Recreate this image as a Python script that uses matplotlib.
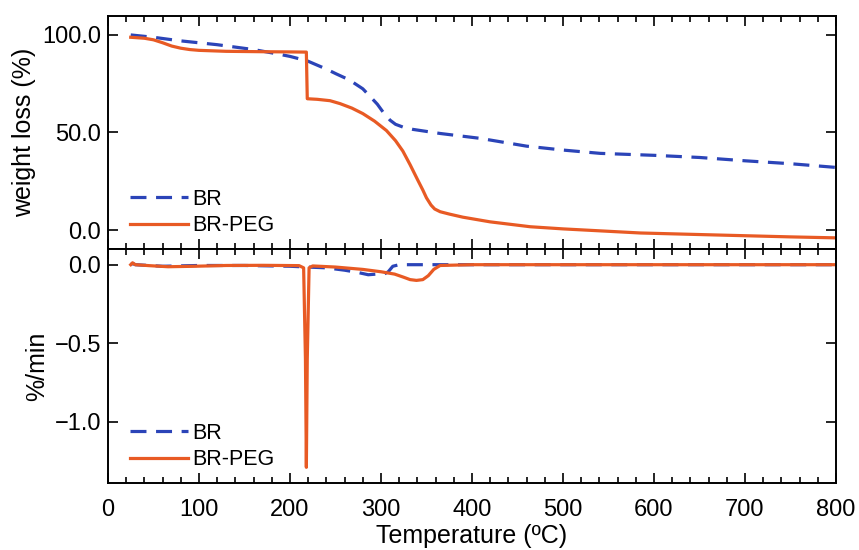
import matplotlib
matplotlib.use("Agg")
import matplotlib.pyplot as plt
from matplotlib.ticker import MultipleLocator, FuncFormatter

plt.rcParams["font.family"] = ["Liberation Sans", "DejaVu Sans"]

# weight loss curves (TGA)
br_temp = [25, 50, 79, 120, 160, 186, 200, 219, 240, 251, 265, 280, 288, 296, 303,
           310, 316, 324, 335, 365, 409, 460, 500, 541, 600, 650, 700, 750, 800]
br_wt = [100, 98.8, 97, 95, 92.5, 90.3, 89, 86.7, 82.5, 80, 77, 72.4, 68.5, 64.5,
         60, 56.3, 54.2, 52.8, 51.6, 49.5, 47, 43, 41, 39.3, 38.3, 37.2, 35.5,
         34, 32.1]

peg_temp = [25, 40, 50, 60, 70, 80, 90, 100, 130, 170, 200, 218, 219, 230, 244,
            255, 268, 280, 293, 306, 316, 324, 332, 340, 346, 350, 355, 359, 365,
            375, 390, 420, 464, 500, 585, 650, 700, 750, 800]
peg_wt = [98.8, 98.3, 97.5, 96, 94.3, 93.2, 92.5, 92.1, 91.6, 91.4, 91.3, 91.2,
          67.3, 67.0, 66.3, 64.8, 62.5, 59.7, 55.8, 51, 45.8, 40.5, 33.5, 26,
          20.5, 16.5, 12.8, 10.8, 9.4, 8.2, 6.6, 4.2, 1.7, 0.6, -1.5, -2.3, -2.9,
          -3.5, -4]

# derivative curves (DTG)
br_dtemp = [25, 27, 30, 60, 100, 150, 200, 219, 240, 260, 275, 286, 295, 302,
            308, 313, 320, 400, 500, 600, 700, 800]
br_dtg = [0, 0.008, 0, -0.01, -0.005, -0.005, -0.01, -0.015, -0.02, -0.035,
          -0.05, -0.064, -0.06, -0.064, -0.045, -0.01, 0, 0, 0, 0, 0, 0]

peg_dtemp = [25, 27, 30, 45, 66, 95, 130, 170, 210, 215, 217, 218, 219, 221, 225,
             250, 280, 300, 315, 325, 332, 339, 346, 352, 358, 365, 400, 500, 600,
             700, 800]
peg_dtg = [0, 0.012, 0, -0.006, -0.013, -0.01, -0.005, -0.004, -0.006, -0.02,
           -0.6, -1.29, -0.6, -0.02, -0.008, -0.015, -0.03, -0.045, -0.06, -0.08,
           -0.095, -0.10, -0.095, -0.07, -0.03, -0.005, 0, 0, 0, 0, 0]

blue = "#2B44B8"
orange = "#E85A24"


def minus_fmt(v, pos):
    return f"{v:.1f}".replace("-", "\u2212")


def style_axis(ax):
    ax.tick_params(which="both", direction="in", top=True, right=True,
                   labelsize=17, width=1.2)
    ax.tick_params(which="major", length=7)
    ax.tick_params(which="minor", length=4)
    ax.tick_params(axis="y", which="minor", left=False, right=False)
    ax.tick_params(axis="y", pad=5)
    ax.tick_params(axis="x", pad=11.5)
    ax.xaxis.set_major_locator(MultipleLocator(100))
    ax.xaxis.set_minor_locator(MultipleLocator(20))
    ax.yaxis.set_major_formatter(FuncFormatter(minus_fmt))
    for s in ax.spines.values():
        s.set_linewidth(1.4)


fig = plt.figure(figsize=(8.59, 5.5), dpi=100)
ax1 = fig.add_axes([0.1257, 0.5473, 0.8475, 0.4236])
ax2 = fig.add_axes([0.1257, 0.1218, 0.8475, 0.4255], sharex=ax1)

ax1.plot(br_temp, br_wt, color=blue, lw=2.3, dashes=(5, 3), label="BR")
ax1.plot(peg_temp, peg_wt, color=orange, lw=2.3, label="BR-PEG")
ax1.set_ylim(-9.7, 109.7)
ax1.set_yticks([0, 50, 100])
ax1.set_ylabel("weight loss (%)", fontsize=18)
style_axis(ax1)
ax1.tick_params(labelbottom=False)

ax2.plot(br_dtemp, br_dtg, color=blue, lw=2.3, dashes=(5, 3), label="BR")
ax2.plot(peg_dtemp, peg_dtg, color=orange, lw=2.3, label="BR-PEG")
ax2.set_ylim(-1.39, 0.1)
ax2.set_yticks([-1.0, -0.5, 0.0])
ax2.set_ylabel("%/min", fontsize=18)
ax2.set_xlim(0, 800)
ax2.set_xlabel("Temperature (ºC)", fontsize=18, labelpad=2)
style_axis(ax2)

for ax in (ax1, ax2):
    ax.legend(loc="lower left", bbox_to_anchor=(0.018, 0.018), frameon=False,
              fontsize=15.5, handlelength=2.7, handletextpad=0.2,
              borderaxespad=0, labelspacing=0.25)

fig.savefig("out.png", dpi=100)
